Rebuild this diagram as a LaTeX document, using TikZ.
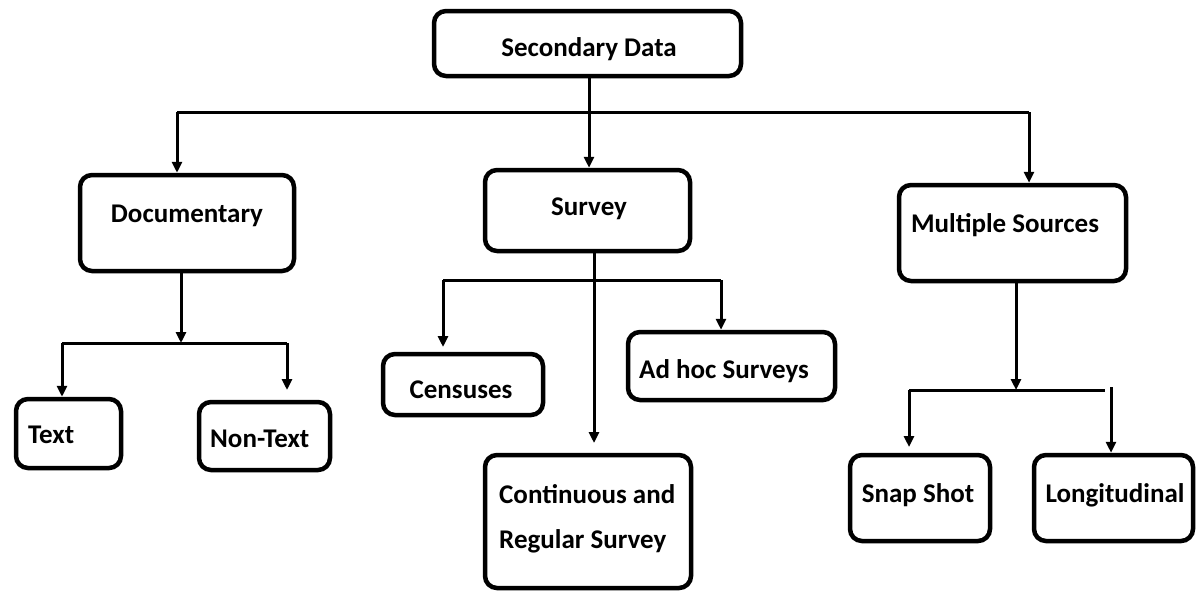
\documentclass[tikz,border=0pt]{standalone}
\usepackage{fontspec}
\setmainfont{Carlito}
\usetikzlibrary{arrows.meta}
\tikzset{
  box/.style={draw, line width=4.5pt, rounded corners=12pt, inner sep=0pt},
  lbl/.style={inner sep=0pt, font=\fontsize{27}{32}\selectfont\bfseries},
  conn/.style={line width=3pt},
  arr/.style={line width=3pt, -{Triangle[length=11pt,width=10pt]}}
}
\begin{document}
\begin{tikzpicture}[x=1pt,y=-1pt]
\useasboundingbox (0,0) rectangle (1198,592);
% boxes
\node[box, minimum width=307pt, minimum height=65pt] (sd) at (587.5,43.5) {};
\node[box, minimum width=214pt, minimum height=96pt] (doc) at (187,223) {};
\node[box, minimum width=205pt, minimum height=81pt] (sur) at (587.5,210.5) {};
\node[box, minimum width=227pt, minimum height=96pt] (ms) at (1012.5,233) {};
\node[box, minimum width=105pt, minimum height=69pt] (txt) at (68.5,433.5) {};
\node[box, minimum width=131pt, minimum height=68pt] (ntx) at (264.5,436) {};
\node[box, minimum width=160pt, minimum height=61pt] (cen) at (463,384.5) {};
\node[box, minimum width=207pt, minimum height=68pt] (adh) at (731.5,366) {};
\node[box, minimum width=206pt, minimum height=133pt] (con) at (588,521.5) {};
\node[box, minimum width=140pt, minimum height=86pt] (snp) at (920,498) {};
\node[box, minimum width=159pt, minimum height=86pt] (lon) at (1113.5,498) {};
% labels
\node[lbl, anchor=base] (sdt) at (589,56) {Secondary Data};
\node[lbl, anchor=base] (doct) at (187,222) {Documentary};
\node[lbl, anchor=base] (surt) at (589,215) {Survey};
\node[lbl, anchor=base] (mst) at (1005,232) {Multiple Sources};
\node[lbl, anchor=base west] (txtt) at (28,443) {Text};
\node[lbl, anchor=base west] (ntxt) at (210,447) {Non-Text};
\node[lbl, anchor=base] (cent) at (461,398) {Censuses};
\node[lbl, anchor=base] (adht) at (724,378) {Ad hoc Surveys};
\node[lbl, anchor=base west] (cont1) at (499,503) {Continuous and};
\node[lbl, anchor=base west] (cont2) at (499,548) {Regular Survey};
\node[lbl, anchor=base] (snpt) at (918,502) {Snap Shot};
\node[lbl, anchor=base] (lont) at (1115,502) {Longitudinal};
% level 1 connectors
\coordinate (b1l) at (177,112);
\coordinate (b1r) at (1029,112);
\draw[conn] (b1l) -- (b1r);
\draw[arr] (sd.south -| sdt) -- (sur.north -| sdt);
\draw[arr] (b1l) -- (b1l |- doc.north);
\draw[arr] (b1r) -- (b1r |- ms.north);
% documentary
\coordinate (d0) at (181,0);
\coordinate (b2l) at (62,343);
\coordinate (b2r) at (287,343);
\draw[arr] (d0 |- doc.south) -- (d0 |- b2l);
\draw[conn] (b2l) -- (b2r);
\draw[arr] (b2l) -- (b2l |- txt.north);
\coordinate (b2e) at (287,390);
\draw[arr] (b2r) -- (b2e);
% survey
\coordinate (s0) at (594,443);
\coordinate (b3l) at (443,280);
\coordinate (b3r) at (721,280);
\draw[arr] (s0 |- sur.south) -- (s0);
\draw[conn] (b3l) -- (b3r);
\coordinate (b3e) at (443,347);
\draw[arr] (b3l) -- (b3e);
\draw[arr] (b3r) -- (b3r |- adh.north);
% multiple sources
\coordinate (m0) at (1016,390);
\coordinate (b4l) at (909,390);
\coordinate (b4r) at (1105,390);
\draw[arr] (m0 |- ms.south) -- (m0);
\draw[conn] (b4l) -- (b4r);
\coordinate (b4e) at (909,447);
\draw[arr] (b4l) -- (b4e);
\coordinate (b4s) at (1111,387);
\draw[arr] (b4s) -- (b4s |- lon.north);
\end{tikzpicture}
\end{document}
